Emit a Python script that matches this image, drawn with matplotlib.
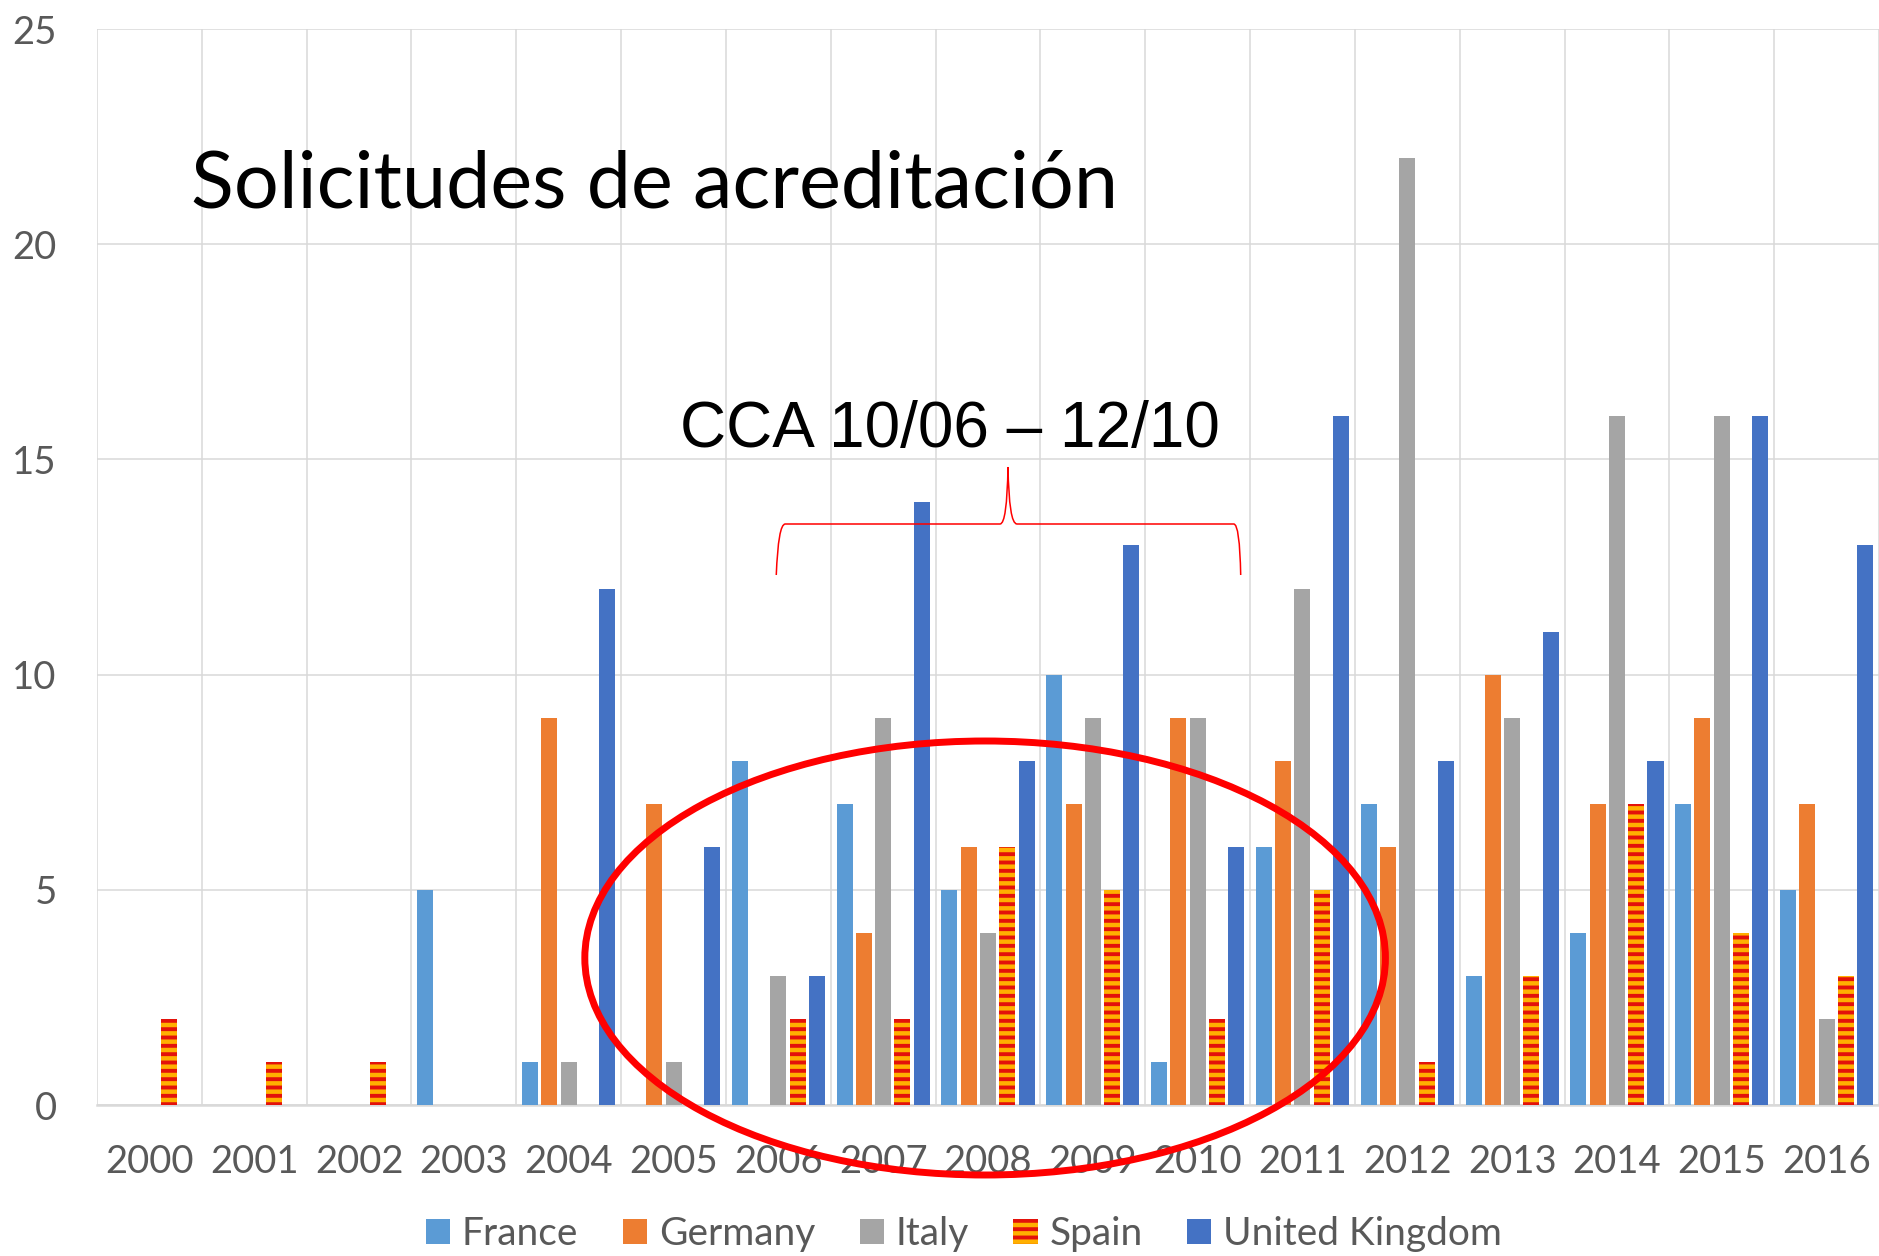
import matplotlib
matplotlib.use("Agg")
import matplotlib.pyplot as plt
import matplotlib.patches as mpatches
from matplotlib.path import Path
import numpy as np

years = [str(y) for y in range(2000, 2017)]
series_names = ["France", "Germany", "Italy", "Spain", "United Kingdom"]

france  = [0, 0, 0, 5, 1, 0, 8, 7, 5, 10, 1, 6, 7, 3, 4, 7, 5]
germany = [0, 0, 0, 0, 9, 7, 0, 4, 6, 7, 9, 8, 6, 10, 7, 9, 7]
italy   = [0, 0, 0, 0, 1, 1, 3, 9, 4, 9, 9, 12, 22, 9, 16, 16, 2]
spain   = [2, 1, 1, 0, 0, 0, 2, 2, 6, 5, 2, 5, 1, 3, 7, 4, 3]
uk      = [0, 0, 0, 0, 12, 6, 3, 14, 8, 13, 6, 16, 8, 11, 8, 16, 13]

colors = ["#5B9BD5", "#ED7D31", "#A5A5A5", "#FFB000", "#4472C4"]
grid_col = "#D9D9D9"
tick_col = "#595959"

plt.rcParams["font.family"] = ["Lato", "DejaVu Sans"]
plt.rcParams["hatch.linewidth"] = 2.8

W, H = 1879, 1256
left_px, zero_px, top_px = 97, 1105, 29
cat_px = 105.4
unit_px = (zero_px - top_px) / 25


def px(xp, yp):
    # picture pixel -> data coords, for the hand-drawn marks
    return -0.5 + (xp - left_px) / cat_px, (zero_px - yp) / unit_px


fig = plt.figure(figsize=(W / 100, H / 100), dpi=100)
ax = fig.add_axes([left_px / W, 1 - zero_px / H, 1 - left_px / W, (zero_px - top_px) / H])

x = np.arange(len(years))
step, width = 0.184, 0.153
handles = []
for k, (name, vals) in enumerate(zip(series_names, [france, germany, italy, spain, uk])):
    pos = x + (k - 2) * step
    if name == "Spain":
        b = ax.bar(pos, vals, width, color=colors[k], edgecolor="#E3120B",
                   linewidth=0, hatch="--", label=name, zorder=3)
    else:
        b = ax.bar(pos, vals, width, color=colors[k], linewidth=0,
                   label=name, zorder=3)
    handles.append(b)

ax.set_xlim(-0.5, -0.5 + (W - left_px) / cat_px)
ax.set_ylim(0, 25)
ax.set_yticks(range(0, 26, 5))
ax.set_xticks(x)
ax.set_xticklabels(years)
ax.set_xticks(np.arange(-0.5, 17, 1), minor=True)
ax.grid(axis="y", which="major", color=grid_col, lw=1.1, zorder=0)
ax.grid(axis="x", which="minor", color=grid_col, lw=1.1, zorder=0)
ax.grid(axis="x", which="major", visible=False)
ax.set_axisbelow(True)
for s in ["top", "right", "left"]:
    ax.spines[s].set_visible(False)
ax.spines["bottom"].set_color(grid_col)
ax.spines["bottom"].set_linewidth(1.8)
ax.tick_params(which="both", length=0, labelsize=27.5, colors=tick_col)
ax.tick_params(axis="y", pad=29)
ax.tick_params(axis="x", pad=28)

# annotations drawn on the chart
ax.text(*px(192, 207), "Solicitudes de acreditación", fontsize=57, color="black",
        ha="left", va="baseline", zorder=6)
ax.text(*px(955, 447), "CCA 10/06 \u2013 12/10", fontsize=46, color="black",
        family=["Liberation Sans", "DejaVu Sans"], ha="center", va="baseline", zorder=6)

brace_px = [(780, 575), (782, 524), (789, 524),
            (1005, 524),
            (1012, 524), (1013, 467),
            (1014, 524), (1022, 524),
            (1240, 524),
            (1246, 524), (1247, 575)]
codes = [Path.MOVETO, Path.CURVE3, Path.CURVE3,
         Path.LINETO,
         Path.CURVE3, Path.CURVE3,
         Path.CURVE3, Path.CURVE3,
         Path.LINETO,
         Path.CURVE3, Path.CURVE3]
ax.add_patch(mpatches.PathPatch(Path([px(*p) for p in brace_px], codes), fill=False,
                                color="#FF0000", lw=1.1, zorder=6))

cx, cy = px(990, 958)
ax.add_patch(mpatches.Ellipse((cx, cy), 805 / cat_px, 434 / unit_px, fill=False,
                              edgecolor="#FF0000", lw=5, zorder=7, clip_on=False))

fig.legend(handles=handles, labels=series_names, loc="center",
           bbox_to_anchor=(0.513, 1 - 1234 / H), ncol=5, frameon=False,
           fontsize=28, handlelength=0.62, handleheight=0.62, handletextpad=0.3,
           columnspacing=1.15, labelcolor=tick_col)

fig.savefig("out.png", dpi=100)
